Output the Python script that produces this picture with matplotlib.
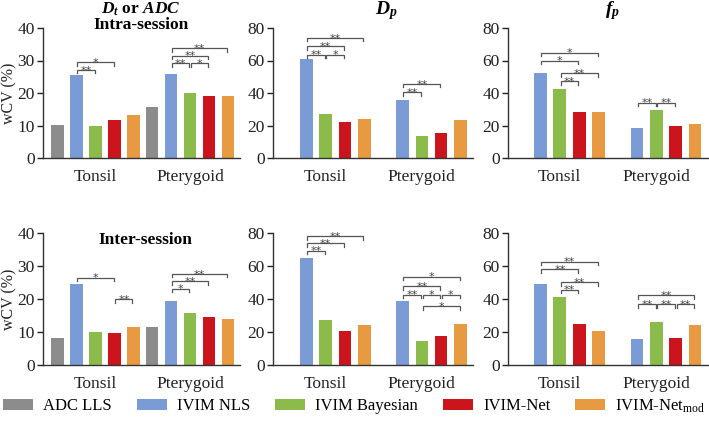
import numpy as np
import matplotlib
matplotlib.use("Agg")
import matplotlib.pyplot as plt
from matplotlib.patches import Patch

plt.rcParams['font.family'] = ['Liberation Serif', 'DejaVu Serif']
plt.rcParams['mathtext.fontset'] = 'custom'
plt.rcParams['mathtext.it'] = 'Liberation Serif:italic:bold'
plt.rcParams['mathtext.bf'] = 'Liberation Serif:italic:bold'
plt.rcParams['mathtext.rm'] = 'Liberation Serif'

groups = ['Tonsil', 'Pterygoid']
methods = ['ADC LLS', 'IVIM NLS', 'IVIM Bayesian', 'IVIM-Net', r'IVIM-Net$_\mathregular{mod}$']
colors = ['#8c8c8c', '#7b9bd6', '#8bbb4a', '#cc141d', '#e89a43']

# wCV (%) per method; None = method not applicable
intra_dt_tonsil = [10.2, 25.4, 10.0, 11.6, 13.2]
intra_dt_ptery = [15.6, 25.9, 19.9, 19.1, 19.0]
intra_dp_tonsil = [None, 61.2, 27.3, 22.4, 23.8]
intra_dp_ptery = [None, 36.0, 13.5, 15.4, 23.2]
intra_fp_tonsil = [None, 52.5, 42.2, 28.1, 28.1]
intra_fp_ptery = [None, 18.2, 29.7, 19.4, 21.0]
inter_dt_tonsil = [8.3, 24.6, 9.9, 9.7, 11.4]
inter_dt_ptery = [11.5, 19.4, 15.7, 14.4, 13.9]
inter_dp_tonsil = [None, 64.6, 27.1, 20.6, 24.2]
inter_dp_ptery = [None, 38.5, 14.3, 17.7, 24.8]
inter_fp_tonsil = [None, 49.1, 41.1, 24.6, 20.6]
inter_fp_ptery = [None, 15.9, 25.9, 16.5, 24.4]

# significance brackets: (group, method a, method b, height, label)
intra_dt_sig = [(0, 1, 2, 27.1, '**'), (0, 1, 3, 29.4, '*'), (1, 1, 2, 29.1, '**'),
                (1, 2, 3, 29.1, '*'), (1, 1, 3, 31.5, '**'), (1, 1, 4, 33.8, '**')]
intra_dp_sig = [(0, 1, 2, 63.5, '**'), (0, 2, 3, 63.5, '*'), (0, 1, 3, 68.7, '**'),
                (0, 1, 4, 73.9, '**'), (1, 1, 2, 40.6, '**'), (1, 1, 3, 45.6, '**')]
intra_fp_sig = [(0, 1, 4, 64.8, '*'), (0, 1, 3, 59.8, '*'), (0, 2, 4, 52.1, '**'),
                (0, 2, 3, 47.3, '**'), (1, 1, 2, 34.1, '**'), (1, 2, 3, 34.1, '**')]
inter_dt_sig = [(0, 1, 3, 26.4, '*'), (0, 3, 4, 20.0, '**'), (1, 1, 2, 23.1, '*'),
                (1, 1, 3, 25.4, '**'), (1, 1, 4, 27.6, '**')]
inter_dp_sig = [(0, 1, 2, 69.2, '**'), (0, 1, 3, 73.7, '**'), (0, 1, 4, 78.2, '**'),
                (1, 1, 2, 42.6, '**'), (1, 2, 3, 42.6, '*'), (1, 3, 4, 42.6, '*'),
                (1, 1, 3, 47.7, '**'), (1, 1, 4, 53.6, '*'), (1, 2, 4, 35.6, '*')]
inter_fp_sig = [(0, 1, 4, 62.7, '**'), (0, 1, 3, 58.0, '**'), (0, 2, 4, 50.1, '**'),
                (0, 2, 3, 45.6, '**'), (1, 1, 4, 42.2, '**'), (1, 1, 2, 36.7, '**'),
                (1, 2, 3, 36.7, '**'), (1, 3, 4, 36.7, '**')]

panels = [
    (intra_dt_tonsil, intra_dt_ptery, intra_dt_sig, 40, 10),
    (intra_dp_tonsil, intra_dp_ptery, intra_dp_sig, 80, 20),
    (intra_fp_tonsil, intra_fp_ptery, intra_fp_sig, 80, 20),
    (inter_dt_tonsil, inter_dt_ptery, inter_dt_sig, 40, 10),
    (inter_dp_tonsil, inter_dp_ptery, inter_dp_sig, 80, 20),
    (inter_fp_tonsil, inter_fp_ptery, inter_fp_sig, 80, 20),
]

W, H = 709, 422
fig = plt.figure(figsize=(W / 100, H / 100), dpi=100)

# axes boxes in pixels: left, right, y of zero, y of top
lefts = [43, 273, 508]
rights = [240, 473, 709]
rows = [(158, 28), (365, 233)]
xlims = [(-0.76, 9.63), (-0.74, 9.66), (-0.68, 9.72)]

for k, (tonsil, ptery, sig, ymax, step) in enumerate(panels):
    r, c = divmod(k, 3)
    y0, y1 = rows[r]
    ax = fig.add_axes([lefts[c] / W, (H - y0) / H, (rights[c] - lefts[c]) / W, (y0 - y1) / H])
    for g, vals in enumerate([tonsil, ptery]):
        for m, v in enumerate(vals):
            if v is None:
                continue
            ax.bar(g * 5 + m, v, width=0.66, color=colors[m], linewidth=0)
    tick = 0.027 * ymax
    for g, a, b, y, lab in sig:
        xa = g * 5 + a + 0.04
        xb = g * 5 + b - 0.04
        ax.plot([xa, xa, xb, xb], [y - tick, y, y, y - tick], color='#555555', lw=0.9,
                solid_joinstyle='miter', clip_on=False)
        ax.annotate(lab, ((xa + xb) / 2, y), xytext=(0, -2.6), textcoords='offset points',
                    ha='center', va='baseline', fontsize=8, color='#444444',
                    family='DejaVu Sans')
    ax.set_ylim(0, ymax)
    ax.set_xlim(*xlims[c])
    ax.set_yticks(np.arange(0, ymax + 1, step))
    ax.set_xticks([2, 7])
    ax.set_xticklabels(groups)
    ax.tick_params(axis='x', length=0, pad=8, labelsize=12.5, colors='#222222')
    ax.tick_params(axis='y', length=4, width=1, labelsize=12.5, colors='#222222', pad=2)
    for s in ['top', 'right']:
        ax.spines[s].set_visible(False)
    for s in ['left', 'bottom']:
        ax.spines[s].set_color('#333333')
        ax.spines[s].set_linewidth(1)
    if c == 0:
        fig.text(9 / W, 1 - (y0 + y1) / 2 / H, 'wCV (%)', rotation=90, ha='center',
                 va='center', fontsize=11.5, color='#222222')

fig.text(141 / W, 1 - 29 / H, '$D_t$ or $ADC$\nIntra-session', ha='center',
         va='baseline', multialignment='center', fontsize=12.5, fontweight='bold',
         linespacing=0.95)
fig.text(386 / W, 1 - 14 / H, r'$D_p$', ha='center', va='baseline', fontsize=14)
fig.text(612 / W, 1 - 14 / H, r'$f_p$', ha='center', va='baseline', fontsize=14)
fig.text(145 / W, 1 - 240 / H, 'Inter-session', ha='center', va='center',
         fontsize=12.5, fontweight='bold')

handles = [Patch(facecolor=col, edgecolor='none') for col in colors]
fig.legend(handles, methods, loc='center', bbox_to_anchor=(0.5, 16 / H), ncol=5,
           frameon=False, fontsize=12, handlelength=1.8, handleheight=0.65,
           handletextpad=0.6, columnspacing=1.5, borderaxespad=0)

fig.savefig('out.png', dpi=100)
